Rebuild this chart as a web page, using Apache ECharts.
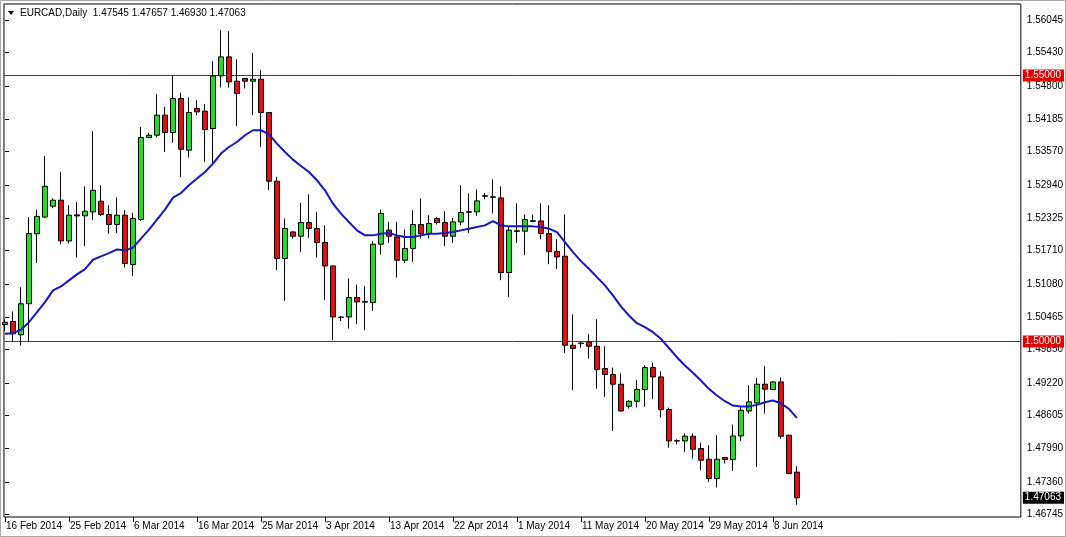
<!DOCTYPE html>
<html>
<head>
<meta charset="utf-8">
<script src="https://cdn.jsdelivr.net/npm/echarts@6/dist/echarts.min.js"></script>
<style>
html,body{margin:0;padding:0;background:#fff;}
#c{width:1066px;height:537px;}
</style>
</head>
<body>
<div id="c"></div>
<script>
// Bar index 0 = 16 Feb 2014 (daily, Sun-Fri bars)
var dateLabels = ['16 Feb 2014','25 Feb 2014','6 Mar 2014','16 Mar 2014','25 Mar 2014','3 Apr 2014','13 Apr 2014','22 Apr 2014','1 May 2014','11 May 2014','20 May 2014','29 May 2014','8 Jun 2014'];
var dateLabelIdx = [0,8,16,24,32,40,48,56,64,72,80,88,96];

// open, close, low, high
var opens = [1.5032,1.50376,1.50126,1.50709,1.52027,1.52339,1.52543,1.52656,1.5189,1.5238,
1.52361,1.52436,1.52637,1.52387,1.52199,1.52374,1.51447,1.52293,1.53834,1.53878,
1.54254,1.53928,1.54567,1.53596,1.5438,1.54329,1.54003,1.54992,1.5535,1.54893,
1.54944,1.54893,1.5493,1.54304,1.53013,1.5156,1.5206,1.51979,1.52236,1.52124,
1.5186,1.5142,1.5046,1.50462,1.50826,1.5075,1.50732,1.51828,1.52092,1.51966,
1.51528,1.51748,1.52199,1.52027,1.52312,1.52236,1.51979,1.52248,1.5243,1.52436,
1.5273,1.5272,1.52699,1.51296,1.5208,1.52073,1.5227,1.52266,1.52027,1.5169,
1.51603,1.4993,1.4997,1.49992,1.49911,1.49492,1.49379,1.49197,1.48783,1.48877,
1.49097,1.4951,1.49334,1.48721,1.48135,1.48131,1.48219,1.47988,1.47787,1.47424,
1.47818,1.47781,1.48224,1.48694,1.48845,1.49197,1.49097,1.4924,1.48238,1.47545];
var closes = [1.5036,1.50145,1.50709,1.52027,1.52352,1.52918,1.52656,1.5189,1.52374,1.5236,
1.52449,1.52843,1.52387,1.52199,1.52374,1.51466,1.52312,1.53834,1.53878,1.54254,
1.53928,1.54567,1.53614,1.54304,1.54316,1.53985,1.54992,1.5535,1.5488,1.54661,
1.54893,1.5493,1.54304,1.53013,1.5156,1.52124,1.51979,1.52236,1.52124,1.5186,
1.5142,1.50462,1.5045,1.50826,1.50744,1.5074,1.51828,1.52406,1.51979,1.51528,
1.51748,1.52199,1.52027,1.52218,1.52236,1.51979,1.52248,1.52424,1.5244,1.52643,
1.5274,1.5271,1.51296,1.52092,1.5207,1.52293,1.5226,1.52027,1.5169,1.5159,
1.4993,1.49868,1.4996,1.49911,1.49473,1.49379,1.49197,1.48694,1.48877,1.49097,
1.4951,1.49334,1.48721,1.48131,1.4813,1.48219,1.47974,1.47768,1.47424,1.47787,
1.47781,1.48224,1.48708,1.48864,1.49197,1.49103,1.4924,1.48219,1.47518,1.47063];
var lows = [1.502,1.49987,1.49925,1.49987,1.51474,1.52317,1.52505,1.51828,1.51842,1.51578,
1.51791,1.5228,1.52355,1.52027,1.52041,1.5139,1.51227,1.52266,1.5382,1.53834,
1.53564,1.53733,1.53094,1.53458,1.54254,1.53375,1.53345,1.54774,1.54774,1.54047,
1.54756,1.54254,1.53658,1.52844,1.5134,1.50763,1.51936,1.51684,1.51947,1.51578,
1.50776,1.50024,1.50386,1.50244,1.50325,1.50212,1.50574,1.51635,1.51853,1.51202,
1.51474,1.51496,1.51936,1.51936,1.52199,1.51791,1.51853,1.52186,1.52041,1.52361,
1.52669,1.52406,1.51152,1.50838,1.51853,1.51622,1.52248,1.51922,1.51452,1.51359,
1.49785,1.49084,1.49887,1.4968,1.49116,1.48958,1.48319,1.48689,1.4874,1.48758,
1.4877,1.48915,1.4857,1.48006,1.4807,1.47924,1.478,1.47579,1.4736,1.47255,
1.47706,1.47566,1.48131,1.48646,1.47642,1.48646,1.49084,1.48176,1.47505,1.4693];
var highs = [1.5042,1.50564,1.51022,1.52339,1.52478,1.53488,1.52693,1.53188,1.52561,1.52624,
1.52918,1.53953,1.52937,1.52561,1.52706,1.52468,1.52417,1.54034,1.53921,1.54648,
1.5441,1.54992,1.5468,1.54586,1.54535,1.5446,1.55269,1.55852,1.55833,1.55301,
1.5495,1.55425,1.551,1.5431,1.53094,1.52312,1.52073,1.52605,1.52768,1.52436,
1.52186,1.5142,1.50475,1.51184,1.51071,1.51039,1.51884,1.52481,1.52248,1.52248,
1.52105,1.52468,1.52688,1.52374,1.52339,1.52449,1.52323,1.52937,1.52782,1.52857,
1.52793,1.53045,1.52918,1.52154,1.52594,1.52387,1.52387,1.52594,1.52561,1.51922,
1.52387,1.50512,1.49992,1.50137,1.50418,1.49911,1.4951,1.49398,1.48896,1.49272,
1.49554,1.49604,1.4944,1.48758,1.4816,1.4827,1.4827,1.481,1.4805,1.48238,
1.47824,1.48439,1.4877,1.49178,1.49315,1.49535,1.49253,1.49322,1.4825,1.47657];

// Moving average (blue line)
var maValues = [1.50145,1.50156,1.5022,1.50363,1.50551,1.5074,1.5096,1.51035,1.51148,1.51261,
1.51361,1.51537,1.516,1.51662,1.51731,1.51713,1.51763,1.51933,1.52102,1.5229,
1.52478,1.52704,1.52791,1.52936,1.53062,1.53186,1.53344,1.53532,1.53656,1.5375,
1.53877,1.53971,1.53971,1.53895,1.5372,1.53562,1.53419,1.53299,1.53186,1.5303,
1.52842,1.52591,1.52403,1.52245,1.52089,1.51995,1.51995,1.52027,1.52038,1.51995,
1.51963,1.51963,1.51995,1.52027,1.52027,1.52038,1.52057,1.52089,1.52121,1.52151,
1.52183,1.52264,1.52183,1.52164,1.52164,1.52164,1.52164,1.52151,1.52121,1.52057,
1.51869,1.5168,1.51511,1.51368,1.5121,1.51054,1.50866,1.50659,1.50489,1.50344,
1.50269,1.50175,1.50051,1.49878,1.49705,1.49548,1.49411,1.49266,1.4911,1.48984,
1.48877,1.48796,1.48777,1.48777,1.48809,1.48858,1.4889,1.48839,1.48734,1.48564];

var yTicks = [1.56045,1.55430,1.54800,1.54185,1.53570,1.52940,1.52325,1.51710,1.51080,1.50465,1.49850,1.49220,1.48605,1.47990,1.47360,1.46745];
var levelLines = [1.55000, 1.50000];
var lastPrice = 1.47063;
var headerText = 'EURCAD,Daily  1.47545 1.47657 1.46930 1.47063';

var X_MIN = -0.125, X_MAX = 127;
var Y_MIN = 1.46701, Y_MAX = 1.56344;
var candleData = opens.map(function (o, i) { return [i, o, closes[i], lows[i], highs[i]]; });
var maData = maValues.map(function (v, i) { return [i, v]; });

var FONT = '"Liberation Sans", Arial, sans-serif';
var chart = echarts.init(document.getElementById('c'), null, {renderer: 'canvas'});

var markLabel = {show: true, position: 'end', distance: 2, fontSize: 10, fontFamily: FONT, padding: [1, 3, 1, 2],
  formatter: function (p) { return Number(p.value).toFixed(5); }};

var levelSeries = levelLines.map(function (v) {
  return {
    type: 'line',
    data: [[X_MIN, v], [X_MAX, v]],
    showSymbol: false,
    silent: true,
    lineStyle: {color: '#d00000', width: 1},
    z: 1
  };
});

var labelMarks = levelLines.map(function (v) {
  return {yAxis: v, label: {backgroundColor: '#e00000', color: '#fff'}};
});
labelMarks.push({yAxis: lastPrice, label: {backgroundColor: '#000', color: '#fff'}});

chart.setOption({
  animation: false,
  backgroundColor: '#fff',
  grid: {left: 4, right: 45, top: 4, bottom: 20, show: true, borderColor: '#000', borderWidth: 1, backgroundColor: '#fff'},
  xAxis: {
    type: 'value', min: X_MIN, max: X_MAX,
    axisLine: {show: false},
    splitLine: {show: false},
    axisTick: {show: true, customValues: dateLabelIdx, length: 5, lineStyle: {color: '#000'}},
    axisLabel: {customValues: dateLabelIdx, align: 'left', margin: 4, color: '#000', fontSize: 10, fontFamily: FONT,
      padding: [0, 0, 0, 1],
      formatter: function (v) { var k = dateLabelIdx.indexOf(Math.round(v)); return k >= 0 ? dateLabels[k] : ''; }}
  },
  yAxis: {
    type: 'value', position: 'right', min: Y_MIN, max: Y_MAX, scale: true,
    axisLine: {show: false},
    splitLine: {show: false},
    axisTick: {show: true, customValues: yTicks, length: 4, lineStyle: {color: '#000'}},
    axisLabel: {customValues: yTicks, margin: 6, color: '#000', fontSize: 10, fontFamily: FONT,
      formatter: function (v) { return v.toFixed(5); }}
  },
  graphic: [
    {type: 'rect', shape: {x: 0.5, y: 0.5, width: 1065, height: 536}, style: {fill: null, stroke: '#a8a8a8', lineWidth: 1}, silent: true, z: 100},
    {type: 'polygon', shape: {points: [[8, 11], [14, 11], [11, 15]]}, style: {fill: '#000'}, z: 100},
    {type: 'text', x: 20, y: 13, style: {text: headerText, fill: '#000', font: '10px ' + FONT, textVerticalAlign: 'middle'}, z: 100}
  ],
  series: levelSeries.concat([
    {
      type: 'candlestick',
      data: candleData,
      encode: {x: 0, y: [1, 2, 3, 4]},
      barWidth: 5,
      itemStyle: {color: '#22dd22', color0: '#e01010', borderColor: '#000', borderColor0: '#000', borderColorDoji: '#000', borderWidth: 1},
      z: 2
    },
    {
      type: 'line',
      data: maData,
      showSymbol: false,
      lineStyle: {color: '#1414c8', width: 2},
      z: 3
    },
    {
      type: 'line',
      data: [],
      z: 4,
      markLine: {
        silent: true,
        symbol: 'none',
        animation: false,
        precision: 5,
        lineStyle: {color: 'rgba(0,0,0,0)', width: 1, type: 'solid'},
        label: markLabel,
        data: labelMarks
      }
    }
  ])
});
</script>
</body>
</html>
